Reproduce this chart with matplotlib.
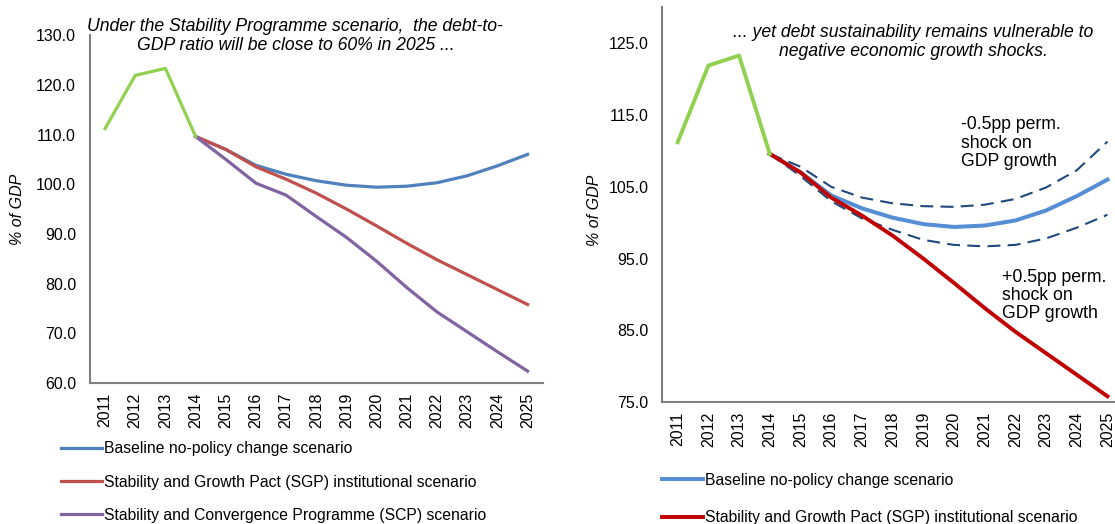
import numpy as np
import matplotlib
matplotlib.use('Agg')
import matplotlib.pyplot as plt

plt.rcParams['font.family'] = ['Liberation Sans', 'DejaVu Sans']

years = list(range(2011, 2026))

# historical debt ratio (2011-2014)
hist_years = [2011, 2012, 2013, 2014]
hist_debt = [111.2, 121.9, 123.3, 109.6]

# projections 2014-2025
proj_years = list(range(2014, 2026))
baseline = [109.6, 107.0, 103.8, 102.0, 100.7, 99.8, 99.4, 99.6, 100.3, 101.7, 103.7, 106.0]
sgp = [109.6, 107.0, 103.5, 101.0, 98.2, 95.0, 91.6, 88.1, 84.8, 81.8, 78.8, 75.8]
scp = [109.6, 105.0, 100.2, 97.8, 93.5, 89.3, 84.5, 79.2, 74.3, 70.3, 66.3, 62.4]
shock_neg = [109.6, 107.8, 105.0, 103.5, 102.7, 102.3, 102.2, 102.5, 103.3, 104.9, 107.3, 111.3]
shock_pos = [109.6, 106.5, 103.0, 100.6, 99.0, 97.6, 96.9, 96.7, 96.9, 97.8, 99.3, 101.1]

label_base = 'Baseline no-policy change scenario'
label_sgp = 'Stability and Growth Pact (SGP) institutional scenario'
label_scp = 'Stability and Convergence Programme (SCP) scenario'

fig = plt.figure(figsize=(11.15, 5.24), dpi=100)

def style_axes(ax, ymin, ymax, yticks):
    ax.set_xlim(2010.5, 2025.5)
    ax.set_ylim(ymin, ymax)
    ax.set_xticks(years)
    ax.set_xticklabels([str(y) for y in years], rotation=90, fontsize=11.5)
    ax.set_yticks(yticks)
    ax.set_yticklabels([f'{v:.1f}' for v in yticks], fontsize=11.5)
    ax.tick_params(length=0, pad=10)
    ax.tick_params(axis='x', pad=7)
    for s in ['top', 'right']:
        ax.spines[s].set_visible(False)
    for s in ['left', 'bottom']:
        ax.spines[s].set_color('#808080')
        ax.spines[s].set_linewidth(1.5)
    ax.set_ylabel('% of GDP', fontstyle='italic', fontsize=11.5)

# left panel
ax1 = fig.add_axes([0.0807, 0.269, 0.406, 0.664])
style_axes(ax1, 60, 130, np.arange(60, 131, 10))
ax1.yaxis.set_label_coords(-0.143, 0.5)
l_base, = ax1.plot(proj_years, baseline, color='#4F81BD', lw=2.3, label=label_base)
l_sgp, = ax1.plot(proj_years, sgp, color='#C0504D', lw=2.3, label=label_sgp)
l_scp, = ax1.plot(proj_years, scp, color='#8064A2', lw=2.3, label=label_scp)
ax1.plot(hist_years, hist_debt, color='#92D050', lw=2.3)
ax1.text(0.4536, 1.049, 'Under the Stability Programme scenario,  the debt-to-\nGDP ratio will be close to 60% in 2025 ...',
         transform=ax1.transAxes, ha='center', va='top', fontstyle='italic', fontsize=12.7, linespacing=1.13)
fig.legend(handles=[l_base, l_sgp, l_scp], loc='upper left', bbox_to_anchor=(0.0547, 0.158),
           frameon=False, fontsize=11.3, handlelength=2.6, handletextpad=0.12,
           labelspacing=1.17, borderpad=0, borderaxespad=0)

# right panel
ax2 = fig.add_axes([0.594, 0.2328, 0.413, 0.753])
style_axes(ax2, 75, 130, np.arange(75, 126, 10))
ax2.yaxis.set_label_coords(-0.13, 0.486)
ax2.plot(proj_years, shock_neg, color='#1F497D', lw=1.5, dashes=(6.2, 3.5))
ax2.plot(proj_years, shock_pos, color='#1F497D', lw=1.5, dashes=(6.2, 3.5))
r_base, = ax2.plot(proj_years, baseline, color='#558ED5', lw=2.9, label=label_base)
r_sgp, = ax2.plot(proj_years, sgp, color='#C00000', lw=2.8, label=label_sgp)
ax2.plot(hist_years, hist_debt, color='#92D050', lw=2.8)
ax2.text(0.545, 0.957, '... yet debt sustainability remains vulnerable to\nnegative economic growth shocks.',
         transform=ax2.transAxes, ha='center', va='top', fontstyle='italic', fontsize=12.7, linespacing=1.13)
ax2.text(2020.23, 114.8, '-0.5pp perm.\nshock on\nGDP growth', fontsize=12.7, va='top', linespacing=1.09)
ax2.text(2021.57, 93.6, '+0.5pp perm.\nshock on\nGDP growth', fontsize=12.7, va='top', linespacing=1.09)
fig.legend(handles=[r_base, r_sgp], loc='upper left', bbox_to_anchor=(0.594, 0.098),
           frameon=False, fontsize=11.3, handlelength=2.6, handletextpad=0.12,
           labelspacing=1.45, borderpad=0, borderaxespad=0)

fig.savefig('out.png', dpi=100)
